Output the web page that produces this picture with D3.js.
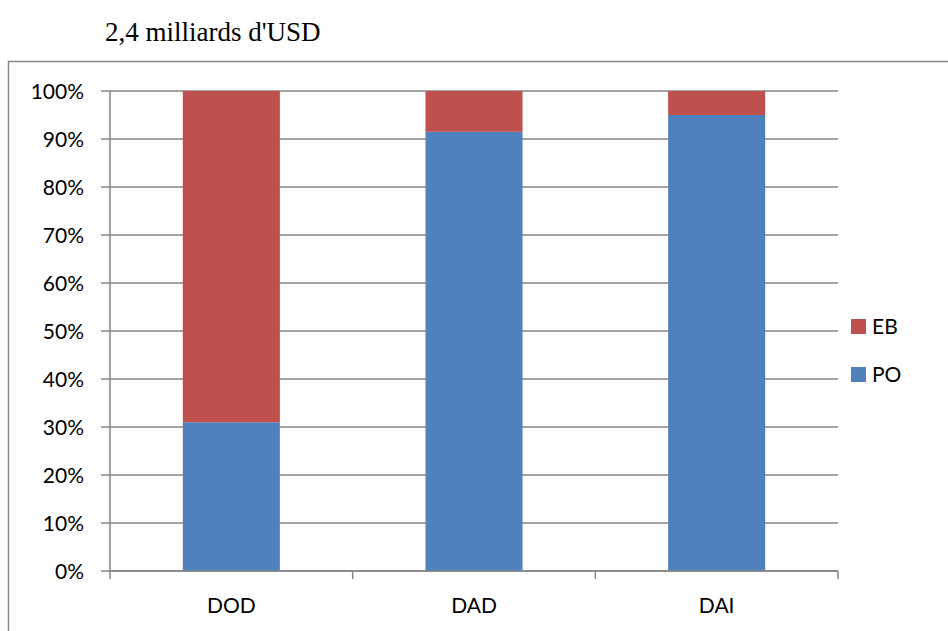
<!DOCTYPE html>
<html>
<head>
<meta charset="utf-8" />
<title>2,4 milliards d'USD</title>
<script src="https://cdn.jsdelivr.net/npm/d3@7"></script>
<style>
  html, body { margin: 0; padding: 0; background: #fff; }
  svg { display: block; }
  .lbl { font-family: Lato, "Open Sans", sans-serif; font-size: 21px; fill: #000; }
  .title { font-family: "Liberation Serif", "DejaVu Serif", serif; font-size: 27px; fill: #000; }
</style>
</head>
<body>
<svg id="chart" width="948" height="631"></svg>
<script>
// data (share of total, %)
let categories = ["DOD", "DAD", "DAI"];
let seriesNames = ["PO", "EB"];
let poValues = [31, 91.5, 95];
let ebValues = [69, 8.5, 5];
let yTicks = [0, 10, 20, 30, 40, 50, 60, 70, 80, 90, 100];
let colors = { PO: "#4f81bd", EB: "#c0504d" };

let svg = d3.select("#chart");

// frame
svg.append("rect")
   .attr("x", 8.5).attr("y", 61.5)
   .attr("width", 960).attr("height", 600)
   .attr("fill", "none")
   .attr("stroke", "#868686")
   .attr("stroke-width", 1.5);

svg.append("text")
   .attr("class", "title")
   .attr("x", 105).attr("y", 41)
   .text("2,4 milliards d'USD");

let x = d3.scaleBand().domain(categories).range([110, 838]).padding(0);
let y = d3.scaleLinear().domain([0, 100]).range([571, 91]);
let barW = x.bandwidth() * 0.4;

// gridlines + y labels
let grid = svg.append("g");
grid.selectAll("line")
    .data(yTicks)
    .enter()
    .append("line")
    .attr("x1", 101).attr("x2", 838)
    .attr("y1", d => y(d)).attr("y2", d => y(d))
    .attr("stroke", "#868686")
    .attr("stroke-width", 1.5);

grid.selectAll("text")
    .data(yTicks)
    .enter()
    .append("text")
    .attr("class", "lbl")
    .attr("x", 84)
    .attr("y", d => y(d) + 7.5)
    .attr("text-anchor", "end")
    .text(d => d + "%");

// stacked bars
let stacked = categories.map((c, i) => ({ cat: c, PO: poValues[i], EB: ebValues[i] }));
let series = d3.stack().keys(seriesNames)(stacked);

svg.append("g")
   .selectAll("g")
   .data(series)
   .enter()
   .append("g")
   .attr("fill", d => colors[d.key])
   .selectAll("rect")
   .data(d => d)
   .enter()
   .append("rect")
   .attr("x", d => x(d.data.cat) + (x.bandwidth() - barW) / 2)
   .attr("width", barW)
   .attr("y", d => y(d[1]))
   .attr("height", d => y(d[0]) - y(d[1]));

// axes lines
svg.append("line")
   .attr("x1", 110).attr("x2", 110)
   .attr("y1", 91).attr("y2", 571)
   .attr("stroke", "#868686").attr("stroke-width", 1.5);

svg.append("line")
   .attr("x1", 110).attr("x2", 838)
   .attr("y1", 571).attr("y2", 571)
   .attr("stroke", "#868686").attr("stroke-width", 1.5);

let xTicks = categories.map(c => x(c)).concat([x.range()[1]]);
svg.append("g")
   .selectAll("line")
   .data(xTicks)
   .enter()
   .append("line")
   .attr("x1", d => d).attr("x2", d => d)
   .attr("y1", 571).attr("y2", 579)
   .attr("stroke", "#868686").attr("stroke-width", 1.5);

svg.append("g")
   .selectAll("text")
   .data(categories)
   .enter()
   .append("text")
   .attr("class", "lbl")
   .attr("x", d => x(d) + x.bandwidth() / 2)
   .attr("y", 613)
   .attr("text-anchor", "middle")
   .text(d => d);

// legend (EB on top)
let legend = svg.append("g")
   .selectAll("g")
   .data(["EB", "PO"])
   .enter()
   .append("g")
   .attr("transform", (d, i) => "translate(851, " + (319 + i * 48) + ")");

legend.append("rect")
   .attr("width", 15).attr("height", 15)
   .attr("fill", d => colors[d]);

legend.append("text")
   .attr("class", "lbl")
   .attr("x", 21).attr("y", 15)
   .text(d => d);
</script>
</body>
</html>
